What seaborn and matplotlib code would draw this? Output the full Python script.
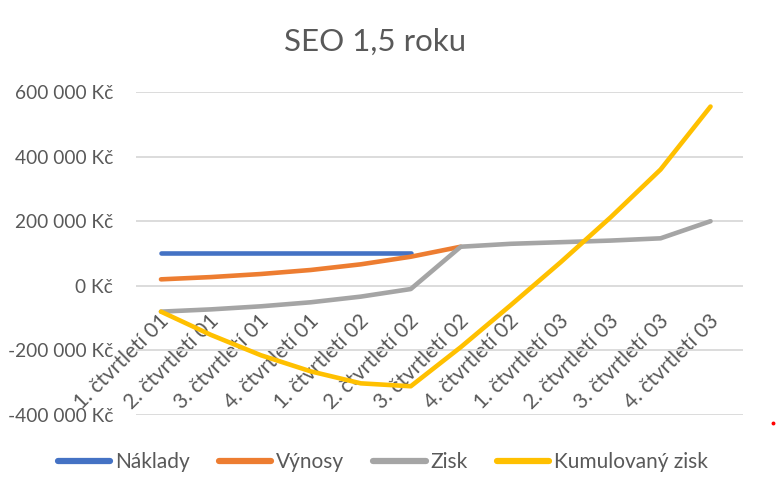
import numpy as np
import pandas as pd
import seaborn as sns
import matplotlib.pyplot as plt
from matplotlib.ticker import FuncFormatter, MultipleLocator
from matplotlib.transforms import ScaledTranslation

# data
ctvrtleti = ['1. čtvrtletí 01', '2. čtvrtletí 01', '3. čtvrtletí 01', '4. čtvrtletí 01',
             '1. čtvrtletí 02', '2. čtvrtletí 02', '3. čtvrtletí 02', '4. čtvrtletí 02',
             '1. čtvrtletí 03', '2. čtvrtletí 03', '3. čtvrtletí 03', '4. čtvrtletí 03']
naklady = [100000, 100000, 100000, 100000, 100000, 100000,
           np.nan, np.nan, np.nan, np.nan, np.nan, np.nan]
vynosy = [20000, 27000, 36500, 49000, 66500, 90000, 121000,
          np.nan, np.nan, np.nan, np.nan, np.nan]
zisk = [-80000, -73000, -63500, -51000, -33500, -10000, 121000,
        130000, 135000, 140000, 147000, 200000]
kumulovany = [-80000, -152000, -215000, -265000, -302000, -311000, -190000,
              -60000, 73000, 212000, 360000, 555000]

serie = ['Náklady', 'Výnosy', 'Zisk', 'Kumulovaný zisk']
barvy = {'Náklady': '#4472C4', 'Výnosy': '#ED7D31', 'Zisk': '#A5A5A5', 'Kumulovaný zisk': '#FFC000'}

df = pd.DataFrame({'Čtvrtletí': ctvrtleti, 'Náklady': naklady, 'Výnosy': vynosy,
                   'Zisk': zisk, 'Kumulovaný zisk': kumulovany})
df_long = df.melt(id_vars='Čtvrtletí', var_name='Série', value_name='Kč')

sns.set_style('white')
plt.rcParams['font.family'] = ['Lato', 'DejaVu Sans']
text_barva = '#595959'

fig = plt.figure(figsize=(7.76, 4.79), dpi=100)
ax = fig.add_axes([136 / 776, 1 - 415 / 479, (743 - 136) / 776, (415 - 92) / 479])

sns.lineplot(data=df_long, x='Čtvrtletí', y='Kč', hue='Série', hue_order=serie,
             palette=barvy, sort=False, estimator=None, errorbar=None,
             linewidth=3.3, solid_capstyle='round', ax=ax, legend=False)

ax.set_ylim(-400000, 600000)
ax.set_xlim(-0.5, 11.65)
ax.yaxis.set_major_locator(MultipleLocator(200000))
ax.yaxis.set_major_formatter(FuncFormatter(lambda v, p: f'{int(v):,} Kč'.replace(',', ' ')))
ax.grid(axis='y', color='#D9D9D9', linewidth=1.3)
ax.set_axisbelow(True)
for s in ax.spines.values():
    s.set_visible(False)
ax.spines['bottom'].set_position(('data', 0))

ax.set_xticks(range(len(ctvrtleti)))
ax.set_xticklabels(ctvrtleti, rotation=45, ha='right', va='center', rotation_mode='anchor')
ax.tick_params(axis='x', length=0, pad=23, labelsize=15, labelcolor=text_barva)
ax.tick_params(axis='y', length=0, pad=16.5, labelsize=13.8, labelcolor=text_barva)
posun = ScaledTranslation(5 / 100, 0, fig.dpi_scale_trans)
for lbl in ax.get_xticklabels():
    lbl.set_transform(lbl.get_transform() + posun)
ax.set_xlabel('')
ax.set_ylabel('')

fig.text(375 / 776, 1 - 42 / 479, 'SEO 1,5 roku', ha='center', va='center',
         fontsize=22.5, color=text_barva)

handles = [plt.Line2D([], [], color=barvy[s], linewidth=4.5, solid_capstyle='round') for s in serie]
fig.legend(handles, serie, loc='center', bbox_to_anchor=(383 / 776, 1 - 462 / 479), ncol=4,
           frameon=False, fontsize=15, handlelength=2.5, handletextpad=0.25,
           columnspacing=1.4, labelcolor=text_barva)

# drobná červená tečka vpravo dole
fig.add_artist(plt.Line2D([773 / 776], [1 - 423 / 479], marker='o', color='red',
                          markersize=1.8, transform=fig.transFigure))

fig.savefig('out.png', dpi=100)
